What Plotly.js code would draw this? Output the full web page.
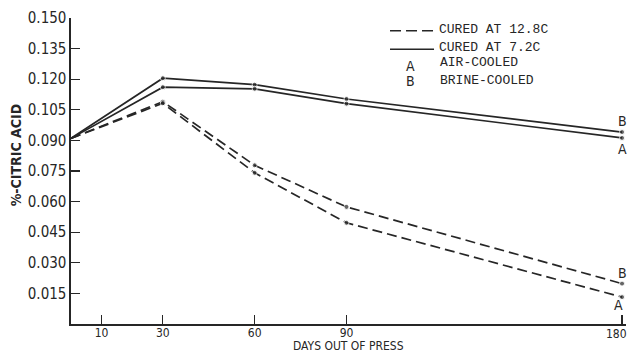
<!DOCTYPE html>
<html>
<head>
<meta charset="utf-8">
<script src="https://cdn.plot.ly/plotly-3.0.1.min.js"></script>
<style>
  html, body { margin: 0; padding: 0; background: #fff; }
  #chart { width: 627px; height: 352px; }
</style>
</head>
<body>
<div id="chart"></div>
<script>
// Citric acid content (%) versus days out of press
const days = [0, 30, 60, 90, 180];
const cured72Brine = [0.091, 0.1205, 0.1173, 0.1103, 0.0941];
const cured72Air   = [0.091, 0.1161, 0.1153, 0.1080, 0.0912];
const cured128Brine = [0.091, 0.1090, 0.0778, 0.0574, 0.0198];
const cured128Air   = [0.091, 0.1082, 0.0741, 0.0496, 0.0132];

const xTicks = [10, 30, 60, 90, 180];
const yTicks = [0.015, 0.030, 0.045, 0.060, 0.075, 0.090, 0.105, 0.120, 0.135, 0.150];
const yTickText = yTicks.map(v => v.toFixed(3));
// the last day label sits at the page edge, so it is drawn as a right-anchored note
const lastTick = xTicks[xTicks.length - 1];
const xTickText = xTicks.map(v => (v === lastTick ? '' : String(v)));

const legendRows = ['CURED AT 12.8C', 'CURED AT 7.2C', 'AIR-COOLED', 'BRINE-COOLED'];

const ink = '#262626';
const narrow = '"Liberation Sans Narrow", "DejaVu Sans Condensed", "Arial Narrow", sans-serif';
const mono = '"Liberation Mono", "DejaVu Sans Mono", monospace';

const markerSizes = days.map(d => (d === 0 ? 0 : 5));

function series(y, dash) {
  return {
    x: days, y: y, type: 'scatter', mode: 'lines+markers',
    line: { color: ink, width: 1.7, dash: dash },
    marker: { color: ink, size: markerSizes },
    hoverinfo: 'skip', showlegend: false
  };
}

const data = [
  series(cured72Brine, 'solid'),
  series(cured72Air, 'solid'),
  series(cured128Brine, '10px,5px'),
  series(cured128Air, '10px,5px')
];

const last = days.length - 1;
function endLabel(text, y, yshift, xshift) {
  return {
    x: days[last], y: y[last], xref: 'x', yref: 'y', text: text, showarrow: false,
    xshift: xshift || 0, yshift: yshift,
    font: { family: narrow, size: 14, color: ink }
  };
}

function keyText(text, x, y, font) {
  return { xref: 'paper', yref: 'paper', x: x, y: y, text: text, showarrow: false,
    xanchor: font === mono ? 'left' : 'center', yanchor: 'middle',
    font: { family: font, size: font === mono ? 13 : 14, color: ink } };
}

const annotations = [
  endLabel('B', cured72Brine, 11),
  endLabel('A', cured72Air, -11),
  endLabel('B', cured128Brine, 11),
  endLabel('A', cured128Air, -8, -4),
  // last x tick label
  { x: lastTick, xref: 'x', y: 0, yref: 'paper', text: String(lastTick), showarrow: false,
    xanchor: 'center', yanchor: 'top', xshift: -6, yshift: -1,
    font: { family: narrow, size: 12, color: ink } },
  // axis titles
  { xref: 'paper', yref: 'paper', x: 0.5, y: -0.0703, text: 'DAYS OUT OF PRESS',
    showarrow: false, xanchor: 'center', yanchor: 'middle',
    font: { family: narrow, size: 12, color: ink } },
  { xref: 'paper', yref: 'paper', x: -0.0987, y: 0.552, text: '%-CITRIC ACID',
    showarrow: false, textangle: -90, xanchor: 'center', yanchor: 'middle',
    font: { family: narrow, size: 14, color: ink, weight: 'bold' } },
  // key
  keyText(legendRows[0], 0.660, 0.962, mono),
  keyText(legendRows[1], 0.660, 0.902, mono),
  keyText('A', 0.6126, 0.844, narrow),
  keyText(legendRows[2], 0.662, 0.853, mono),
  keyText('B', 0.6126, 0.794, narrow),
  keyText(legendRows[3], 0.662, 0.797, mono)
];

const shapes = [
  { type: 'line', xref: 'paper', yref: 'paper', x0: 0.5748, x1: 0.6559, y0: 0.9585, y1: 0.9585,
    line: { color: ink, width: 1.5, dash: '11px,5px' } },
  { type: 'line', xref: 'paper', yref: 'paper', x0: 0.5748, x1: 0.6541, y0: 0.8977, y1: 0.8977,
    line: { color: ink, width: 1.5 } }
];

const layout = {
  width: 627, height: 352,
  margin: { l: 71, r: 1, t: 18, b: 28, pad: 0 },
  paper_bgcolor: '#fff', plot_bgcolor: '#fff',
  showlegend: false,
  xaxis: {
    range: [0, 181.3], tickvals: xTicks, ticktext: xTickText,
    ticks: 'inside', ticklen: 9, tickwidth: 1.3, tickcolor: ink,
    showline: true, linecolor: ink, linewidth: 1.6, showgrid: false, zeroline: false,
    ticklabelstandoff: -3,
    tickfont: { family: narrow, size: 12, color: ink }, fixedrange: true
  },
  yaxis: {
    range: [0, 0.150], tickvals: yTicks, ticktext: yTickText,
    ticks: 'inside', ticklen: 9, tickwidth: 1.3, tickcolor: ink,
    showline: true, linecolor: ink, linewidth: 1.6, showgrid: false, zeroline: false,
    tickfont: { family: narrow, size: 15, color: ink }, fixedrange: true
  },
  annotations: annotations,
  shapes: shapes
};

Plotly.newPlot('chart', data, layout, { staticPlot: true, displayModeBar: false });
</script>
</body>
</html>
